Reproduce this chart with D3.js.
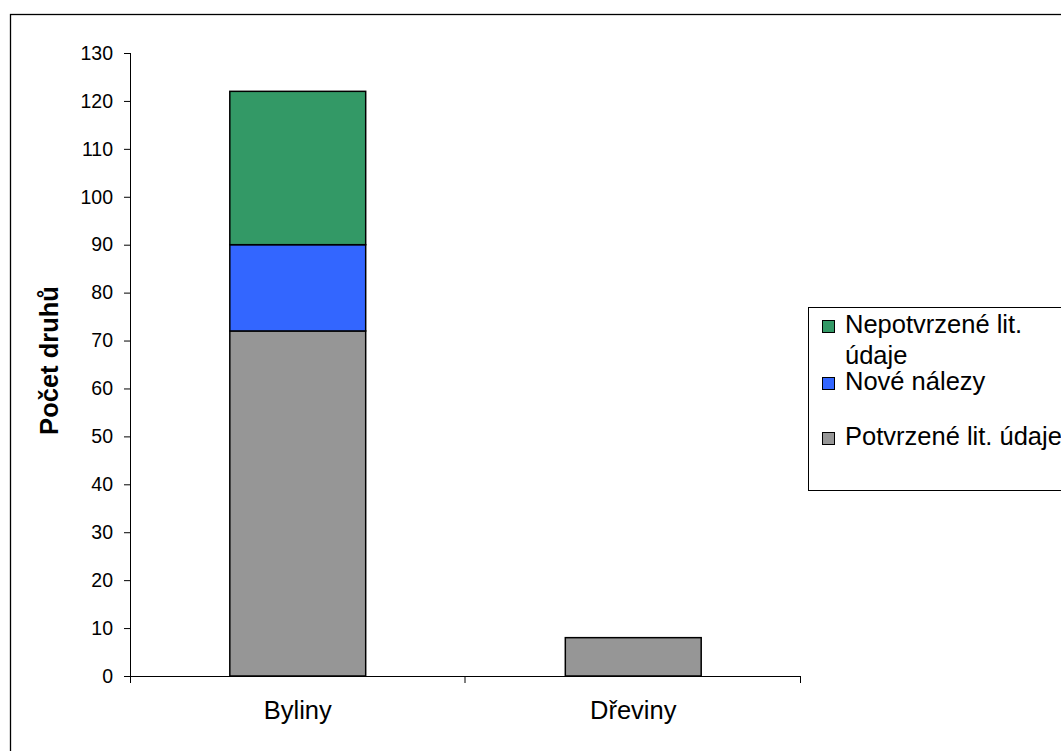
<!DOCTYPE html>
<html>
<head>
<meta charset="utf-8">
<script src="https://cdn.jsdelivr.net/npm/d3@7"></script>
<style>
  html, body { margin: 0; padding: 0; background: #fff; }
  svg { display: block; font-family: "Liberation Sans", Arial, sans-serif; }
</style>
</head>
<body>
<svg id="chart" width="1061" height="751"></svg>
<script>
// Categories and stacked series (počet druhů)
const categories = ["Byliny", "Dřeviny"];
const seriesNames = ["Potvrzené lit. údaje", "Nové nálezy", "Nepotvrzené lit. údaje"];
const potvrzene = [72, 8];
const nove = [18, 0];
const nepotvrzene = [32, 0];
const yTicks = [0, 10, 20, 30, 40, 50, 60, 70, 80, 90, 100, 110, 120, 130];
const yTitle = "Počet druhů";
const colors = ["#969696", "#3366FF", "#339966"];

const rows = categories.map((c, i) => ({
  cat: c,
  [seriesNames[0]]: potvrzene[i],
  [seriesNames[1]]: nove[i],
  [seriesNames[2]]: nepotvrzene[i]
}));

const svg = d3.select("#chart");

// Outer chart frame
svg.append("rect")
  .attr("x", 10.5).attr("y", 14.5)
  .attr("width", 1100).attr("height", 800)
  .attr("fill", "#fff").attr("stroke", "#000").attr("stroke-width", 1.3);

const plotLeft = 130, plotRight = 801, plotTop = 53, plotBottom = 676;

const x = d3.scaleBand().domain(categories).range([plotLeft, plotRight]).padding(0);
const y = d3.scaleLinear().domain([0, 130]).range([plotBottom, plotTop]);
const barFrac = 0.405;

const stacked = d3.stack().keys(seriesNames)(rows);

// Bars
const g = svg.append("g");
stacked.forEach((layer, li) => {
  g.selectAll(null)
    .data(layer.filter(d => d[1] - d[0] > 0))
    .enter().append("rect")
    .attr("x", d => x(d.data.cat) + x.bandwidth() * (1 - barFrac) / 2)
    .attr("width", x.bandwidth() * barFrac)
    .attr("y", d => y(d[1]))
    .attr("height", d => y(d[0]) - y(d[1]))
    .attr("fill", colors[li])
    .attr("stroke", "#000")
    .attr("stroke-width", 1.5);
});

// Y axis
const yAxis = svg.append("g")
  .attr("transform", `translate(${plotLeft},0)`)
  .call(d3.axisLeft(y).tickValues(yTicks).tickSize(6).tickPadding(11).tickSizeOuter(0));
yAxis.select(".domain").attr("d", `M0.5,${plotTop}V${plotBottom + 7}`).attr("stroke", "#000");
yAxis.selectAll(".tick line").attr("stroke", "#000");
yAxis.selectAll(".tick text")
  .attr("font-size", 19.5).attr("fill", "#000")
  .attr("font-family", "'Liberation Sans', Arial, sans-serif");

// X axis: ticks at category boundaries
const xAxis = svg.append("g").attr("transform", `translate(0,${plotBottom})`);
xAxis.append("line")
  .attr("x1", plotLeft).attr("x2", plotRight)
  .attr("y1", 0.5).attr("y2", 0.5)
  .attr("stroke", "#000");
const bounds = categories.map(c => x(c)).concat([x(categories[categories.length - 1]) + x.bandwidth()]);
xAxis.selectAll(".bt").data(bounds.slice(1)).enter().append("line")
  .attr("x1", d => d - 0.5).attr("x2", d => d - 0.5)
  .attr("y1", 0).attr("y2", 7)
  .attr("stroke", "#000");
xAxis.selectAll(".cl").data(categories).enter().append("text")
  .attr("x", d => x(d) + x.bandwidth() / 2)
  .attr("y", 43)
  .attr("text-anchor", "middle")
  .attr("font-size", 25.5)
  .attr("fill", "#000")
  .text(d => d);

// Y axis title
svg.append("text")
  .attr("transform", `translate(58,${(plotTop + plotBottom) / 2 - 4}) rotate(-90)`)
  .attr("text-anchor", "middle")
  .attr("font-size", 25.5)
  .attr("font-weight", "bold")
  .attr("fill", "#000")
  .text(yTitle);

// Legend
const legend = svg.append("g");
legend.append("rect")
  .attr("x", 808.5).attr("y", 307.5)
  .attr("width", 400).attr("height", 183)
  .attr("fill", "#fff").attr("stroke", "#000").attr("stroke-width", 1);

const legendItems = [
  { color: colors[2], lines: ["Nepotvrzené lit.", "údaje"], base: 333 },
  { color: colors[1], lines: ["Nové nálezy"], base: 390 },
  { color: colors[0], lines: ["Potvrzené lit. údaje"], base: 445 }
];
legendItems.forEach(it => {
  legend.append("rect")
    .attr("x", 822.5).attr("y", it.base - 12.5)
    .attr("width", 12).attr("height", 12)
    .attr("fill", it.color).attr("stroke", "#000").attr("stroke-width", 1);
  const t = legend.append("text")
    .attr("x", 845).attr("y", it.base)
    .attr("font-size", 25.5).attr("fill", "#000");
  it.lines.forEach((ln, i) => {
    t.append("tspan").attr("x", 845).attr("dy", i === 0 ? 0 : 31).text(ln);
  });
});
</script>
</body>
</html>
